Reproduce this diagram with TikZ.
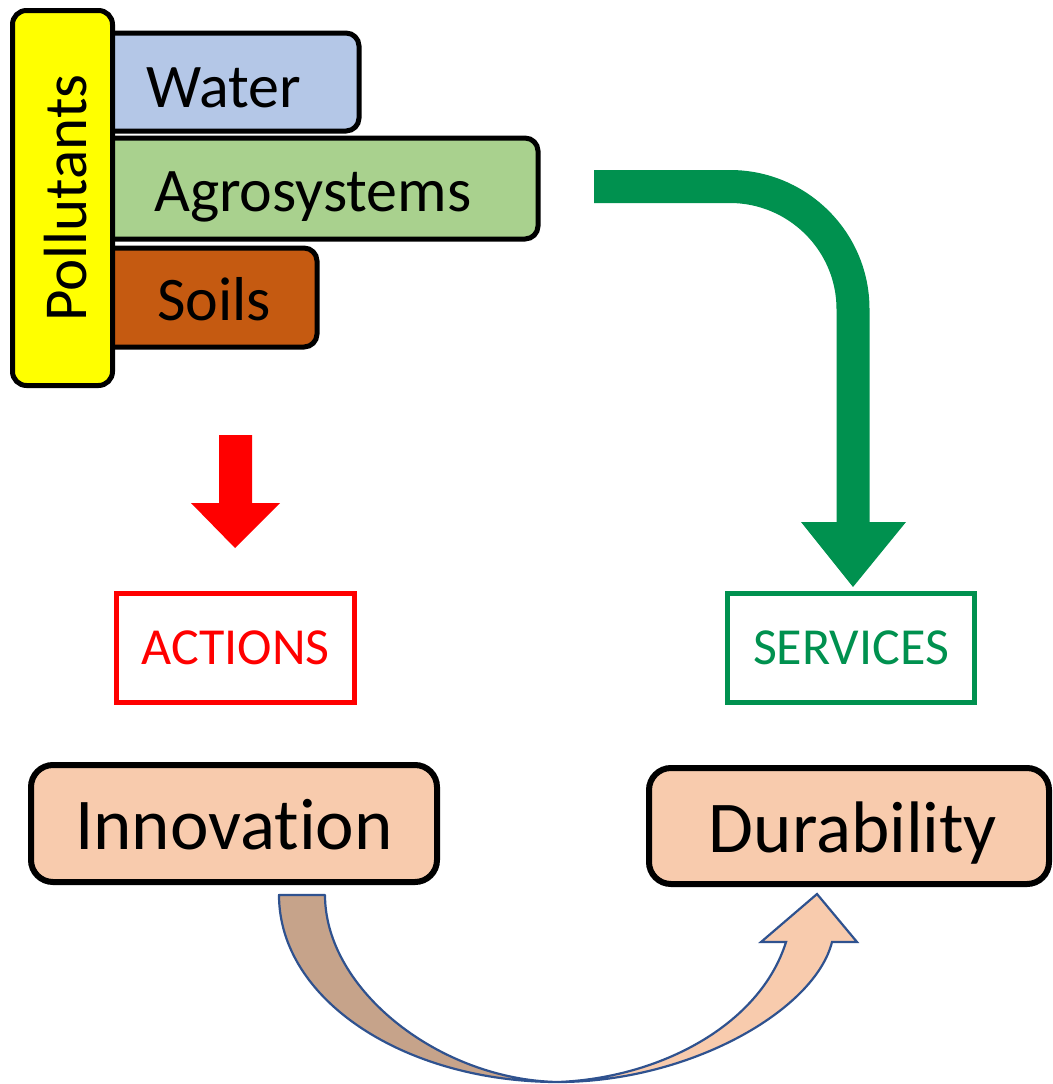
\documentclass[tikz,border=0pt]{standalone}
\usepackage{fontspec}
\setmainfont{Carlito}[Ligatures=NoCommon]
\definecolor{cyellow}{HTML}{FFFF00}
\definecolor{cwater}{HTML}{B4C7E7}
\definecolor{cagro}{HTML}{A9D18E}
\definecolor{csoil}{HTML}{C55A11}
\definecolor{cpeach}{HTML}{F8CBAD}
\definecolor{cbrown}{HTML}{C6A38A}
\definecolor{cgreen}{HTML}{00914F}
\definecolor{cred}{HTML}{FF0000}
\definecolor{cedge}{HTML}{2F528F}
\begin{document}
\begin{tikzpicture}[x=1pt,y=-1pt,
  topbox/.style={draw=black,line width=5pt,rounded corners=13pt},
  toptext/.style={font=\fontsize{62}{62}\selectfont,anchor=base west,inner sep=0pt},
  labelbox/.style={draw=#1,line width=5pt,fill=white,minimum height=109pt,inner sep=0pt,text=#1,font=\fontsize{52}{52}\selectfont},
  bigbox/.style={draw=black,line width=6pt,rounded corners=22pt,fill=cpeach},
  bigtext/.style={font=\fontsize{73}{73}\selectfont,anchor=base,inner sep=0pt}]
\useasboundingbox (0,0) rectangle (1052,1084);

% colored boxes behind the Pollutants bar
\draw[topbox,fill=cwater] (90,33) rectangle (359,131);
\draw[topbox,fill=cagro] (90,138) rectangle (538,239);
\draw[topbox,fill=csoil] (90,248) rectangle (317,347);
\node[toptext] (water) at (146,107) {Water};
\node[toptext] (agro) at (154,211) {Agrosystems};
\node[toptext] (soils) at (157,320) {Soils};

% Pollutants bar
\draw[topbox,fill=cyellow,rounded corners=14pt] (12.5,10.5) rectangle (112.5,385.5);
\node[font=\fontsize{61}{61}\selectfont,rotate=90,anchor=base,inner sep=0pt] (poll) at (86,198) {Pollutants};

% Actions / Services boxes
\node[labelbox=cred,minimum width=238pt] (actions) at (235.5,648) {ACTIONS};
\node[labelbox=cgreen,minimum width=247pt] (services) at (851,648) {SERVICES};

% Innovation / Durability boxes
\draw[bigbox] (31,765) rectangle (437,882);
\draw[bigbox] (649,768) rectangle (1049,884);
\node[bigtext] (innov) at (234,849) {Innovation};
\node[bigtext] (dura) at (853,852) {Durability};

% red block arrow
\coordinate (rtip) at (235,548);
\fill[cred] (219,435) -- (252,435) -- (252,503) -- (280,503) -- (rtip) -- (191,503) -- (219,503) -- cycle;

% green bent block arrow
\coordinate (gtip) at (853,587);
\fill[cgreen] (594,170) -- (730,170)
  .. controls (806.8,170) and (869.5,232.2) .. (869.5,309)
  -- (869.5,522) -- (906,522) -- (gtip) -- (801,522) -- (836.5,522) -- (836.5,309)
  .. controls (836.5,250.5) and (788.5,203) .. (730,203) -- (594,203) -- cycle;

% curved bottom arrow
\coordinate (bot) at (558,1082);
\filldraw[fill=cbrown,draw=cedge,line width=2.2pt,line join=round]
  (279,895) -- (325,895) .. controls (325,990) and (440,1080) .. (bot)
  .. controls (405,1082) and (279,1000) .. cycle;
\filldraw[fill=cpeach,draw=cedge,line width=2.2pt,line join=miter]
  (bot) .. controls (690,1082) and (815,1010) .. (832,942)
  -- (857,942) -- (817,894) -- (761,942) -- (786,942)
  .. controls (760,1025) and (660,1078) .. (bot) -- cycle;
\end{tikzpicture}
\end{document}
